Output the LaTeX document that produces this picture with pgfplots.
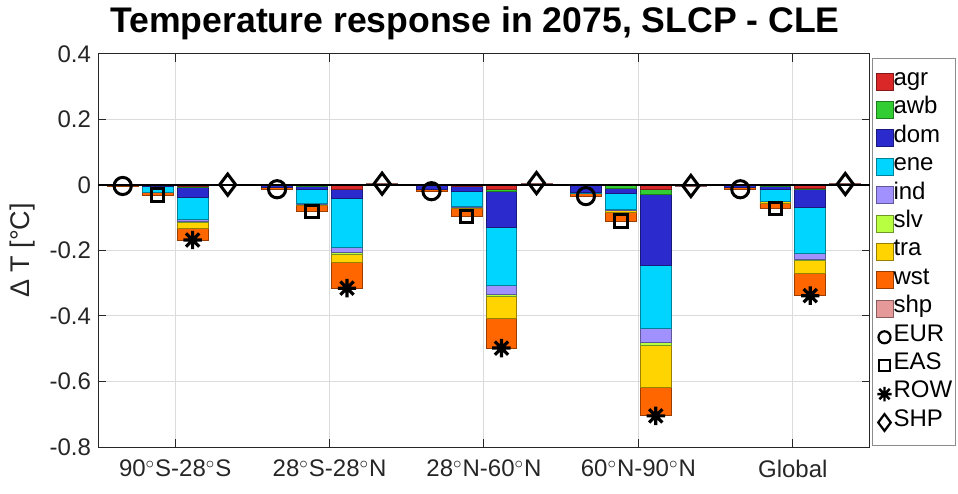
\documentclass[border=0pt]{standalone}
\usepackage{pgfplots}
\pgfplotsset{compat=1.18}
\usepackage{pgfplotstable}
\usepackage{fontspec}
\setmainfont{Liberation Sans}

\definecolor{cagr}{RGB}{218,40,40}
\definecolor{cawb}{RGB}{50,205,50}
\definecolor{cdom}{RGB}{42,42,205}
\definecolor{cene}{RGB}{0,213,255}
\definecolor{cind}{RGB}{160,145,255}
\definecolor{cslv}{RGB}{185,255,65}
\definecolor{ctra}{RGB}{255,212,0}
\definecolor{cwst}{RGB}{255,102,0}
\definecolor{cshp}{RGB}{229,153,153}
\definecolor{axgray}{RGB}{38,38,38}

% eight-armed asterisk, as in the reference
\pgfdeclareplotmark{ast8}{%
  \pgfpathmoveto{\pgfqpoint{0pt}{\pgfplotmarksize}}%
  \pgfpathlineto{\pgfqpoint{0pt}{-\pgfplotmarksize}}%
  \pgfpathmoveto{\pgfqpoint{\pgfplotmarksize}{0pt}}%
  \pgfpathlineto{\pgfqpoint{-\pgfplotmarksize}{0pt}}%
  \pgfpathmoveto{\pgfqpoint{.72\pgfplotmarksize}{.72\pgfplotmarksize}}%
  \pgfpathlineto{\pgfqpoint{-.72\pgfplotmarksize}{-.72\pgfplotmarksize}}%
  \pgfpathmoveto{\pgfqpoint{.72\pgfplotmarksize}{-.72\pgfplotmarksize}}%
  \pgfpathlineto{\pgfqpoint{-.72\pgfplotmarksize}{.72\pgfplotmarksize}}%
  \pgfusepathqstroke}

% stacked sector contributions, one row per bar (EUR, EAS, ROW, SHP in each band)
\pgfplotstableread{
x     agr    awb    dom    ene    ind    slv    tra    wst    shp
0.660  0      0     -0.001 -0.001  0      0      0     -0.001  0
0.887 -0.001  0     -0.002 -0.020  0      0     -0.001 -0.007  0
1.113 -0.005 -0.001 -0.032 -0.068 -0.005 -0.003 -0.020 -0.034  0
1.340  0      0      0      0      0      0      0      0      0.002
1.660  0      0     -0.006 -0.002  0      0      0     -0.005  0
1.887  0     -0.004 -0.008 -0.045 -0.001 -0.001 -0.002 -0.020  0
2.113 -0.012 -0.001 -0.027 -0.152 -0.013 -0.008 -0.022 -0.080  0
2.340  0      0      0      0      0      0      0      0      0.005
2.660 -0.001  0     -0.011 -0.003  0      0      0     -0.004  0
2.887 -0.004 -0.001 -0.014 -0.047 -0.001 -0.001 -0.005 -0.023  0
3.113 -0.013 -0.008 -0.107 -0.178 -0.028 -0.006 -0.068 -0.090  0
3.340  0      0      0      0      0      0      0      0      0.006
3.660  0     -0.001 -0.023 -0.003  0      0      0     -0.007  0
3.887  0     -0.009 -0.016 -0.051 -0.001  0     -0.007 -0.026  0
4.113 -0.015 -0.015 -0.214 -0.195 -0.043 -0.008 -0.127 -0.088  0
4.340  0      0      0      0      0      0      0      0     -0.003
4.660  0      0     -0.006 -0.001  0      0      0     -0.006  0
4.887 -0.002 -0.003 -0.008 -0.037 -0.001  0     -0.004 -0.017  0
5.113 -0.010 -0.005 -0.054 -0.140 -0.017 -0.004 -0.039 -0.069  0
5.340  0      0      0      0      0      0      0      0      0.004
}\bars

\pgfplotstableread{
x     t
0.660 -0.003
1.660 -0.013
2.660 -0.019
3.660 -0.034
4.660 -0.013
}\eur
\pgfplotstableread{
x     t
0.887 -0.031
1.887 -0.081
2.887 -0.096
3.887 -0.110
4.887 -0.072
}\eas
\pgfplotstableread{
x     t
1.113 -0.168
2.113 -0.315
3.113 -0.498
4.113 -0.705
5.113 -0.338
}\row
\pgfplotstableread{
x     t
1.340  0.001
2.340  0.004
3.340  0.006
4.340 -0.003
5.340  0.003
}\shp

\pgfplotsset{
  common/.style={
    at={(49pt,23pt)}, anchor=south west,
    width=386pt, height=196.5pt, scale only axis,
    xmin=0.5, xmax=5.5, ymin=-0.8, ymax=0.4,
  },
  sect/.style={fill=#1, draw=#1!60!black, line width=0.4pt},
  sectleg/.style={fill=#1, draw=#1!60!black, line width=0.5pt,
    legend image code/.code={\draw[##1] (0pt,-4.25pt) rectangle (8.5pt,4.25pt);}},
  markleg/.style={legend image code/.code={\draw[##1] plot coordinates {(4.25pt,0pt)};}},
}

\begin{document}
\begin{tikzpicture}
\useasboundingbox (0,0) rectangle (479pt,246.5pt);
\begin{axis}[common,
  ybar stacked, bar width=0.2,
  xtick={1,2,3,4,5},
  xticklabels={90$^\circ$S-28$^\circ$S, 28$^\circ$S-28$^\circ$N, 28$^\circ$N-60$^\circ$N, 60$^\circ$N-90$^\circ$N, Global},
  ytick={-0.8,-0.6,-0.4,-0.2,0,0.2,0.4},
  yticklabels={-0.8,-0.6,-0.4,-0.2,0,0.2,0.4},
  tick align=inside, major tick length=4pt,
  tick style={axgray, line width=0.5pt},
  xmajorgrids, ymajorgrids, grid style={black!14, line width=0.5pt},
  axis line style={axgray, line width=0.5pt},
  ticklabel style={font=\fontsize{12}{14}\selectfont, text=axgray},
  xticklabel style={yshift=-3pt},
  title={Temperature response in 2075, SLCP - CLE},
  title style={font=\fontsize{17.8}{20}\selectfont\bfseries, yshift=-2.5pt, xshift=-4.5pt},
  ylabel={Δ T [°C]},
  ylabel style={font=\fontsize{13.5}{15}\selectfont, text=axgray, at={(axis description cs:-0.0972,0.5)}, anchor=center},
]
\addplot[sect=cagr] table[x=x,y=agr]{\bars};
\addplot[sect=cawb] table[x=x,y=awb]{\bars};
\addplot[sect=cdom] table[x=x,y=dom]{\bars};
\addplot[sect=cene] table[x=x,y=ene]{\bars};
\addplot[sect=cind] table[x=x,y=ind]{\bars};
\addplot[sect=cslv] table[x=x,y=slv]{\bars};
\addplot[sect=ctra] table[x=x,y=tra]{\bars};
\addplot[sect=cwst] table[x=x,y=wst]{\bars};
\addplot[sect=cshp] table[x=x,y=shp]{\bars};
\end{axis}
\begin{axis}[common, hide axis, clip=false,
  legend cell align=left,
  legend style={at={(rel axis cs:1.0026,0.9898)}, anchor=north west,
    draw=black!45, line width=0.5pt, fill=white,
    inner xsep=1.5pt, inner ysep=4.5pt, row sep=0pt, column sep=0pt,
    font=\fontsize{12}{14}\selectfont,
    nodes={inner sep=0pt, text height=9pt, text depth=5.2pt}},
]
\addplot[black, line width=0.6pt, forget plot] coordinates {(0.5,0) (5.5,0)};
\addlegendimage{sectleg=cagr}\addlegendentry{agr}
\addlegendimage{sectleg=cawb}\addlegendentry{awb}
\addlegendimage{sectleg=cdom}\addlegendentry{dom}
\addlegendimage{sectleg=cene}\addlegendentry{ene}
\addlegendimage{sectleg=cind}\addlegendentry{ind}
\addlegendimage{sectleg=cslv}\addlegendentry{slv}
\addlegendimage{sectleg=ctra}\addlegendentry{tra}
\addlegendimage{sectleg=cwst}\addlegendentry{wst}
\addlegendimage{sectleg=cshp}\addlegendentry{shp}
\addplot[only marks, black, mark=o, mark size=4.3pt, line width=1.5pt, forget plot] table[x=x,y=t]{\eur};
\addplot[only marks, black, mark=square, mark size=3.1pt, line width=1.5pt, forget plot] table[x=x,y=t]{\eas};
\addplot[only marks, black, mark=ast8, mark size=4.6pt, line width=1.6pt, forget plot] table[x=x,y=t]{\row};
\addplot[only marks, black, mark=diamond, mark size=5.3pt, line width=1.5pt, forget plot] table[x=x,y=t]{\shp};
\addlegendimage{markleg, only marks, black, mark=o, mark size=3pt, line width=1.1pt}\addlegendentry{EUR}
\addlegendimage{markleg, only marks, black, mark=square, mark size=2.7pt, line width=1.1pt}\addlegendentry{EAS}
\addlegendimage{markleg, only marks, black, mark=ast8, mark size=3.6pt, line width=1.2pt}\addlegendentry{ROW}
\addlegendimage{markleg, only marks, black, mark=diamond, mark size=4.2pt, line width=1.1pt}\addlegendentry{SHP}
\end{axis}
\end{tikzpicture}
\end{document}
